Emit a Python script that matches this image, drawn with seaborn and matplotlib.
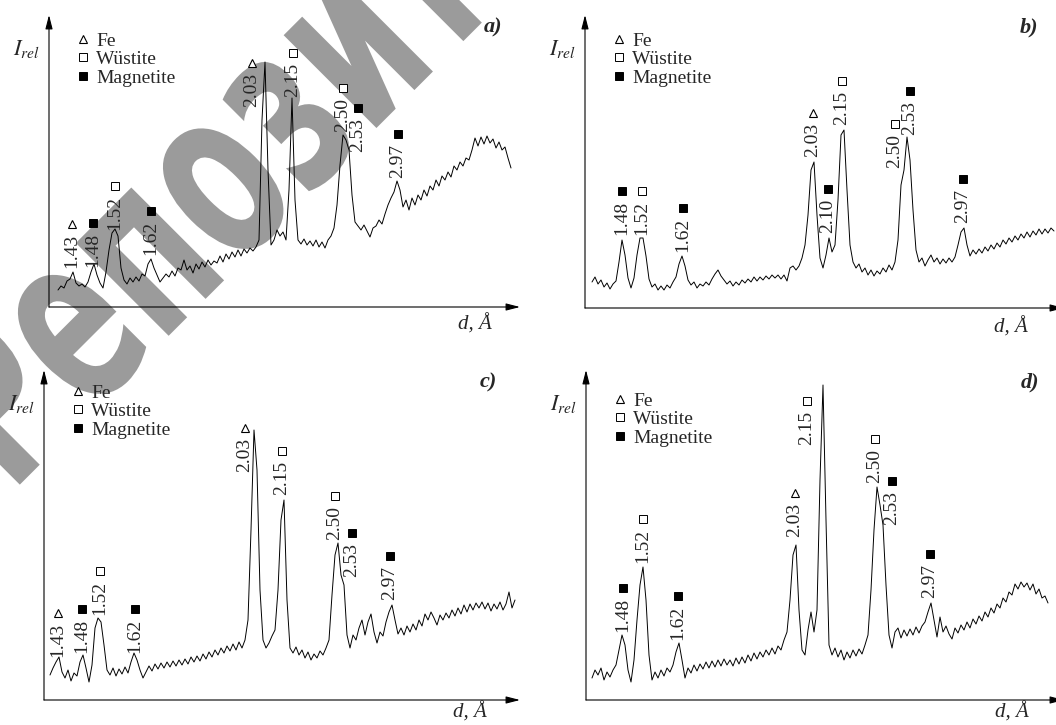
import numpy as np
import matplotlib
matplotlib.use("Agg")
import matplotlib.pyplot as plt
import seaborn as sns
from matplotlib.lines import Line2D
from matplotlib.textpath import TextPath
from matplotlib.patches import PathPatch
from matplotlib.font_manager import FontProperties
from matplotlib.transforms import Affine2D, IdentityTransform

sns.set_theme(style="white")
plt.rcParams["font.family"] = ["Liberation Serif", "DejaVu Serif"]
plt.rcParams["mathtext.fontset"] = "stix"

# XRD scans, intensity (arb. units) at each scan step
a_int = [17, 21, 19, 26, 28, 35, 24, 21, 23, 20, 25, 35, 43, 32, 24, 19, 35, 57, 74, 78,
         71, 39, 27, 23, 29, 25, 30, 26, 33, 31, 43, 48, 39, 32, 25, 29, 33, 30, 36, 31,
         39, 37, 47, 37, 41, 34, 43, 38, 45, 40, 47, 42, 46, 44, 51, 45, 53, 48, 55, 50,
         57, 51, 58, 54, 59, 56, 60, 67, 187, 245, 137, 62, 67, 77, 71, 75, 67, 117, 209, 107,
         67, 63, 68, 62, 66, 61, 67, 60, 65, 59, 67, 71, 79, 102, 142, 172, 167, 157, 112, 85,
         81, 77, 82, 76, 70, 79, 81, 87, 83, 93, 102, 109, 115, 126, 117, 100, 107, 97, 109, 102,
         112, 107, 117, 111, 121, 117, 127, 121, 131, 127, 135, 130, 141, 137, 145, 141, 149, 147, 157, 169,
         161, 170, 163, 171, 164, 168, 159, 165, 157, 160, 149, 139]

b_int = [26, 31, 24, 28, 21, 25, 19, 24, 27, 46, 68, 53, 30, 20, 30, 53, 70, 70, 52, 29,
         21, 24, 18, 22, 18, 23, 20, 26, 31, 44, 52, 42, 28, 23, 26, 20, 24, 22, 26, 23,
         29, 34, 38, 32, 28, 24, 27, 22, 26, 23, 28, 25, 29, 26, 31, 27, 31, 28, 32, 29,
         33, 30, 33, 29, 33, 27, 40, 42, 38, 42, 50, 63, 93, 138, 146, 93, 50, 40, 53, 70,
         56, 63, 108, 173, 178, 118, 63, 46, 40, 44, 36, 40, 33, 38, 32, 37, 34, 40, 36, 43,
         38, 46, 68, 123, 138, 171, 148, 98, 58, 46, 50, 42, 48, 53, 46, 50, 44, 49, 45, 50,
         46, 51, 63, 76, 80, 63, 52, 58, 54, 59, 55, 61, 57, 63, 59, 65, 61, 68, 64, 70,
         66, 72, 68, 74, 70, 76, 71, 77, 73, 79, 74, 79, 75, 80, 77]

c_int = [25, 32, 38, 43, 28, 22, 30, 19, 27, 24, 38, 45, 32, 18, 35, 72, 82, 78, 55, 30,
         25, 32, 24, 31, 26, 33, 27, 38, 47, 40, 30, 22, 28, 34, 29, 36, 31, 37, 32, 38,
         33, 39, 34, 40, 35, 41, 36, 43, 38, 44, 39, 46, 41, 48, 43, 50, 45, 52, 47, 54,
         49, 56, 50, 58, 52, 60, 80, 170, 270, 230, 110, 60, 52, 57, 64, 70, 110, 180, 200, 100,
         52, 47, 53, 45, 50, 42, 48, 40, 46, 42, 49, 45, 52, 60, 105, 145, 157, 125, 115, 65,
         52, 65, 60, 72, 80, 65, 78, 86, 68, 57, 68, 64, 78, 88, 95, 80, 66, 72, 65, 74,
         68, 76, 70, 80, 74, 86, 80, 88, 82, 75, 85, 80, 87, 82, 90, 84, 92, 86, 95, 88,
         96, 90, 97, 92, 98, 91, 97, 89, 96, 91, 98, 90, 96, 108, 92, 100]

d_int = [22, 30, 25, 32, 20, 28, 23, 30, 35, 50, 65, 55, 30, 18, 40, 80, 115, 133, 100, 45,
         20, 28, 22, 30, 24, 32, 28, 35, 48, 57, 40, 22, 32, 27, 35, 29, 36, 31, 38, 32,
         39, 33, 40, 34, 41, 35, 40, 34, 42, 36, 43, 37, 45, 39, 47, 41, 48, 43, 50, 45,
         52, 46, 54, 50, 60, 68, 100, 145, 155, 90, 50, 45, 70, 88, 68, 90, 220, 315, 180, 55,
         45, 52, 43, 50, 40, 48, 42, 50, 44, 51, 46, 55, 65, 110, 170, 213, 195, 175, 115, 65,
         52, 68, 72, 62, 70, 64, 71, 65, 73, 67, 74, 78, 88, 97, 80, 63, 83, 68, 74, 66,
         61, 72, 67, 75, 70, 78, 72, 81, 76, 84, 79, 88, 83, 92, 87, 96, 92, 102, 98, 108,
         105, 116, 111, 118, 113, 117, 110, 116, 106, 111, 102, 104, 97]

# peak labels: d-spacing, phase, scan step, height of label foot
a_lbl = ["1.43", "1.48", "1.52", "1.62", "2.03", "2.15", "2.50", "2.53", "2.97"]
a_phase = ["Fe", "Magnetite", "Wüstite", "Magnetite", "Fe", "Wüstite", "Wüstite", "Magnetite", "Magnetite"]
a_lbl_pos = [4.7, 11.7, 19, 31, 64.7, 78.3, 95, 100, 113.3]
a_lbl_h = [39, 40, 77, 52, 200, 210, 175, 155, 129]

b_lbl = ["1.48", "1.52", "1.62", "2.03", "2.10", "2.15", "2.50", "2.53", "2.97"]
b_phase = ["Magnetite", "Wüstite", "Magnetite", "Fe", "Magnetite", "Wüstite", "Wüstite", "Magnetite", "Magnetite"]
b_lbl_pos = [10, 16.7, 30.3, 73.7, 78.7, 83.3, 101, 106, 123.7]
b_lbl_h = [73, 73, 56, 151, 75, 183, 140, 173, 85]

c_lbl = ["1.43", "1.48", "1.52", "1.62", "2.03", "2.15", "2.50", "2.53", "2.97"]
c_phase = ["Fe", "Magnetite", "Wüstite", "Magnetite", "Fe", "Wüstite", "Wüstite", "Magnetite", "Magnetite"]
c_lbl_pos = [2.7, 10.7, 16.7, 28.3, 65, 77.3, 95, 100.7, 113.3]
c_lbl_h = [43, 47, 85, 47, 228, 205, 160, 123, 100]

d_lbl = ["1.48", "1.52", "1.62", "2.03", "2.15", "2.50", "2.53", "2.97"]
d_phase = ["Magnetite", "Wüstite", "Magnetite", "Fe", "Wüstite", "Wüstite", "Magnetite", "Magnetite"]
d_lbl_pos = [10.3, 17, 28.7, 67.7, 71.7, 94.3, 100, 112.7]
d_lbl_h = [68, 137, 60, 163, 255, 217, 175, 102]

phase_style = {
    "Fe": dict(marker="^", ms=6, mfc="white", mec="black", mew=0.8),
    "Wüstite": dict(marker="s", ms=5.5, mfc="white", mec="black", mew=0.7),
    "Magnetite": dict(marker="s", ms=6, mfc="black", mec="black", mew=0.7),
}

W_PX, H_PX = 1056, 725
PT = 72 / 100  # px -> points

fig = plt.figure(figsize=(W_PX / 100, H_PX / 100), dpi=100)


def draw_panel(letter, ints, lbl, phase, lbl_pos, lbl_h, box, leg_dy, d_dy):
    left, right, top, bottom, start = box
    ax = fig.add_axes([left / W_PX, (H_PX - bottom) / H_PX,
                       (right - left) / W_PX, (bottom - top) / H_PX])
    ax.patch.set_alpha(0)
    steps = np.arange(len(ints))
    sns.lineplot(x=steps, y=ints, ax=ax, color="black", lw=0.7, estimator=None)
    ax.set_xlim((left - start) / 3, (right - start) / 3)
    ax.set_ylim(0, bottom - top)
    ax.set_xticks([])
    ax.set_yticks([])
    ax.set_xlabel("")
    ax.set_ylabel("")
    sns.despine(ax=ax, left=True, bottom=True, top=True, right=True)

    arrow = dict(arrowstyle="-|>,head_length=0.7,head_width=0.18", lw=0.8,
                 color="black", shrinkA=0, shrinkB=0)
    ax.annotate("", xy=(1, 0), xytext=(0, 0), xycoords="axes fraction",
                arrowprops=arrow, annotation_clip=False)
    ax.annotate("", xy=(0, 1), xytext=(0, 0), xycoords="axes fraction",
                arrowprops=arrow, annotation_clip=False)

    # peak labels
    for t, ph, x, h in zip(lbl, phase, lbl_pos, lbl_h):
        ax.text(x, h, t, rotation=90, ha="center", va="bottom", fontsize=14)
        ax.plot([x], [h + 44], ls="none", clip_on=False, **phase_style[ph])

    ax.annotate(r"$I_{rel}$", xy=(0, 1), xycoords="axes fraction",
                xytext=(-23 * PT, -34 * PT), textcoords="offset points",
                ha="center", va="center", fontsize=16)
    ax.annotate(letter, xy=(0, 1), xycoords="axes fraction",
                xytext=(444 * PT, -12 * PT), textcoords="offset points",
                ha="center", va="center", fontsize=16, fontweight="bold", fontstyle="italic")
    ax.annotate("d, Å", xy=(0, 0), xycoords="axes fraction",
                xytext=(426 * PT, -d_dy * PT), textcoords="offset points",
                ha="center", va="center", fontsize=15, fontstyle="italic")

    handles = [Line2D([], [], ls="none", label=k, **v) for k, v in phase_style.items()]
    w, h = right - left, bottom - top
    ax.legend(handles=handles, loc="upper left",
              bbox_to_anchor=(26 / w, 1 - (leg_dy - 11) / h),
              borderaxespad=0, borderpad=0, frameon=False, handlelength=0.8,
              handletextpad=0.3, labelspacing=0.05, prop={"size": 14})
    return ax


draw_panel("a)", a_int, a_lbl, a_phase, a_lbl_pos, a_lbl_h, (49, 520, 15, 307, 58), 28, 17)
draw_panel("b)", b_int, b_lbl, b_phase, b_lbl_pos, b_lbl_h, (585, 1064, 15, 308, 592), 28, 19)
draw_panel("c)", c_int, c_lbl, c_phase, c_lbl_pos, c_lbl_h, (44, 520, 370, 700, 50), 25, 12)
draw_panel("d)", d_int, d_lbl, d_phase, d_lbl_pos, d_lbl_h, (586, 1064, 370, 700, 592), 33, 12)

# repository watermark behind the plots
fp = FontProperties(family="DejaVu Sans", weight="bold")
word = "Репозиторий"
size = 150
tp = TextPath((0, 0), word, size=size, prop=fp)
x3 = TextPath((0, 0), word[:3], size=size, prop=fp).get_extents().x1
x4 = TextPath((0, 0), word[:4], size=size, prop=fp).get_extents().x1
xh = TextPath((0, 0), "о", size=size, prop=fp).get_extents().height
tr = (Affine2D().translate(-(x3 + x4) / 2, -xh / 2).scale(1, 1.6)
      .rotate_deg(45).translate(214, H_PX - 193))
wm = PathPatch(tr.transform_path(tp), facecolor="#9b9b9b", edgecolor="none",
               transform=IdentityTransform(), zorder=-1)
fig.add_artist(wm)

fig.savefig("out.png", dpi=100)
